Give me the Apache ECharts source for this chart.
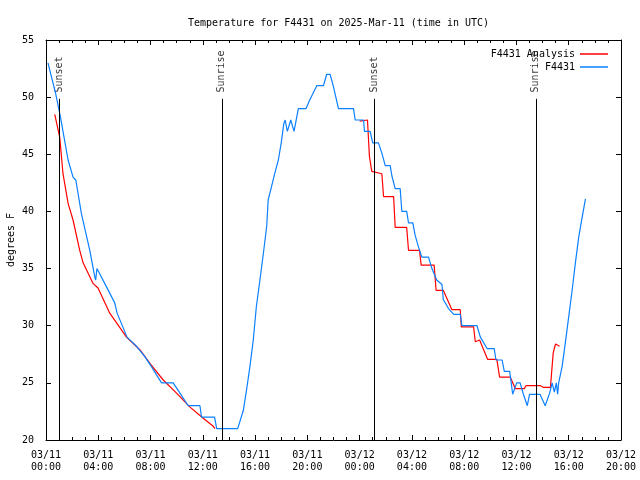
<!DOCTYPE html>
<html>
<head>
<meta charset="utf-8">
<script src="https://cdn.jsdelivr.net/npm/echarts@6/dist/echarts.min.js"></script>
<style>html,body{margin:0;padding:0;background:#fff;}#chart{width:640px;height:480px;}</style>
</head>
<body>
<div id="chart"></div>
<script>
// Hours since 03/11 00:00 UTC
const tickLabels = ['03/11\n00:00','03/11\n04:00','03/11\n08:00','03/11\n12:00','03/11\n16:00','03/11\n20:00',
                    '03/12\n00:00','03/12\n04:00','03/12\n08:00','03/12\n12:00','03/12\n16:00','03/12\n20:00'];

const obsHours = [0.15,0.74,1.1,1.69,2.07,2.28,2.71,3.35,3.73,3.8,3.9,4.63,5.26,5.44,6.2,6.93,7.56,8.08,8.84,9.73,
  10.25,10.88,11.78,11.9,12.9,13.06,14.67,15.1,15.35,15.6,15.86,16.1,16.37,16.63,16.89,17.0,17.2,17.5,17.78,18.0,
  18.2,18.3,18.47,18.73,18.98,19.31,19.9,20.2,20.72,21.23,21.48,21.74,22.0,22.38,23.53,23.66,24.3,24.37,24.8,25.0,
  25.44,25.7,25.96,26.34,26.47,26.72,27.1,27.23,27.6,27.74,28.07,28.25,28.5,28.76,29.27,29.53,29.9,30.3,30.4,30.8,
  31.2,31.7,31.83,32.98,33.24,33.75,34.3,34.43,34.9,35.07,35.48,35.6,35.71,35.85,36.02,36.28,36.53,36.65,36.83,37.0,
  37.8,38.2,38.3,38.54,38.73,38.9,39.05,39.15,39.23,39.49,39.74,40.0,40.26,40.51,40.77,41.03,41.28];
const obsTemps = [53.0,50.3,48.3,44.5,43.0,42.75,39.8,36.6,34.3,34.0,35.0,33.4,32.0,31.1,29.0,28.2,27.3,26.4,25.0,25.0,
  24.1,23.0,23.0,22.0,22.0,21.0,21.0,22.6,24.4,26.4,28.75,31.7,34.0,36.3,38.7,41.0,41.9,43.3,44.5,46.0,
  47.7,48.0,47.0,48.0,47.0,49.0,49.0,49.8,51.0,51.0,52.0,52.0,50.9,49.0,49.0,48.0,48.0,47.0,47.0,46.0,
  46.0,45.1,44.0,44.0,43.1,42.0,42.0,40.0,40.0,39.0,39.0,37.9,36.9,36.0,36.0,35.0,34.0,33.6,32.3,31.5,
  31.0,31.0,30.0,30.0,29.0,28.0,28.0,27.0,27.0,26.0,26.0,25.0,24.0,24.0,25.0,25.0,24.0,24.0,23.0,24.0,
  24.0,23.0,23.0,24.1,25.0,24.2,25.0,24.0,25.0,26.4,28.5,30.8,33.1,35.5,37.8,39.5,41.1];

const anaHours = [0.67,1.05,1.3,1.69,2.07,2.58,2.84,3.6,3.98,4.88,6.16,7.18,7.95,8.97,9.99,11.0,12.03,12.8,12.93,
  18.5,
  24.0,24.6,24.75,24.93,25.7,25.83,26.6,26.72,27.6,27.74,28.58,28.71,29.7,29.85,30.4,31.06,31.7,31.78,32.72,32.85,
  33.18,33.79,34.5,34.71,35.53,35.91,36.6,36.73,37.83,38.08,38.6,38.81,38.99,39.3];
const anaTemps = [48.5,46.5,43.3,40.7,39.25,36.6,35.5,33.7,33.3,31.1,29.0,27.9,26.7,25.25,24.1,22.9,21.9,21.2,21.0,
  null,
  47.9,48.0,44.8,43.5,43.3,41.3,41.3,38.6,38.6,36.6,36.6,35.3,35.3,33.1,33.1,31.4,31.4,29.9,29.9,28.6,
  28.75,27.06,27.06,25.5,25.5,24.5,24.5,24.75,24.75,24.6,24.6,27.6,28.4,28.2];

const eventHours = [1.05, 13.46, 25.11, 37.48];
const eventNames = ['Sunset', 'Sunrise', 'Sunset', 'Sunrise'];
const eventLineTop = 49.85;
const eventLabelAt = 50.4;

const FONT = 'DejaVu Sans Mono';
const chart = echarts.init(document.getElementById('chart'), null, {renderer: 'canvas'});

const baseX = {
  type: 'value', min: 0, max: 44, interval: 4,
  axisLine: {show: true, onZero: false, lineStyle: {color: '#000', width: 1}},
  axisTick: {show: true, inside: true, length: 5, lineStyle: {color: '#000'}},
  minorTick: {show: true, splitNumber: 4, length: 3, lineStyle: {color: '#000'}},
  splitLine: {show: false}, minorSplitLine: {show: false}
};
const baseY = {
  type: 'value', min: 20, max: 55, interval: 5,
  axisLine: {show: true, onZero: false, lineStyle: {color: '#000', width: 1}},
  axisTick: {show: true, inside: true, length: 5, lineStyle: {color: '#000'}},
  splitLine: {show: false}
};

chart.setOption({
  animation: false,
  backgroundColor: '#fff',
  title: {
    text: 'Temperature for F4431 on 2025-Mar-11 (time in UTC)',
    left: 183, top: 13,
    textStyle: {fontFamily: FONT, fontSize: 10, fontWeight: 'normal', color: '#000'}
  },
  legend: [
    {data: ['F4431 Analysis'], right: 27, top: 44, orient: 'vertical', align: 'right',
     icon: 'rect', itemWidth: 28, itemHeight: 1.5, itemGap: 0,
     textStyle: {fontFamily: FONT, fontSize: 10, color: '#000'}},
    {data: ['F4431'], right: 27, top: 57, orient: 'vertical', align: 'right',
     icon: 'rect', itemWidth: 28, itemHeight: 1.5, itemGap: 0,
     textStyle: {fontFamily: FONT, fontSize: 10, color: '#000'}}
  ],
  grid: {left: 46, right: 19, top: 40, bottom: 40, containLabel: false, outerBoundsMode: 'none'},
  xAxis: [
    Object.assign({}, baseX, {position: 'bottom',
      axisLabel: {show: true, margin: 9, fontFamily: FONT, fontSize: 10, lineHeight: 12, color: '#000',
        showMinLabel: true, showMaxLabel: true, hideOverlap: false,
        formatter: v => tickLabels[Math.round(v / 4)] || ''}}),
    Object.assign({}, baseX, {position: 'top', axisLabel: {show: false}})
  ],
  yAxis: [
    Object.assign({}, baseY, {position: 'left',
      name: 'degrees F', nameLocation: 'middle', nameRotate: 90, nameGap: 30, nameMoveOverlap: false,
      nameTextStyle: {fontFamily: FONT, fontSize: 10, color: '#000'},
      axisLabel: {show: true, margin: 12, fontFamily: FONT, fontSize: 10, color: '#000'}}),
    Object.assign({}, baseY, {position: 'right', axisLabel: {show: false}})
  ],
  series: [
    {
      name: 'F4431 Analysis', type: 'line', xAxisIndex: 0, yAxisIndex: 0,
      data: anaHours.map((h, i) => [h, anaTemps[i] === null ? '-' : anaTemps[i]]),
      showSymbol: false, symbol: 'none', connectNulls: false,
      lineStyle: {color: '#ff0000', width: 1.2}, itemStyle: {color: '#ff0000'}, z: 3
    },
    {
      name: 'F4431', type: 'line', xAxisIndex: 0, yAxisIndex: 0,
      data: obsHours.map((h, i) => [h, obsTemps[i]]),
      showSymbol: false, symbol: 'none',
      lineStyle: {color: '#0a80ff', width: 1.2}, itemStyle: {color: '#0a80ff'}, z: 4
    },
    {
      name: 'events', type: 'scatter', xAxisIndex: 0, yAxisIndex: 0,
      symbolSize: 0, silent: true,
      data: eventHours.map((h, i) => ({value: [h, eventLabelAt], name: eventNames[i]})),
      label: {show: true, position: 'inside', rotate: 90, align: 'left', verticalAlign: 'middle',
        formatter: p => p.name, fontFamily: FONT, fontSize: 10, color: '#000'},
      markLine: {
        silent: true, symbol: ['none', 'none'], animation: false,
        label: {show: false},
        lineStyle: {color: '#000', width: 1, type: 'solid'},
        data: eventHours.map(h => [{coord: [h, 20]}, {coord: [h, eventLineTop]}])
      },
      z: 2
    }
  ]
});
</script>
</body>
</html>
